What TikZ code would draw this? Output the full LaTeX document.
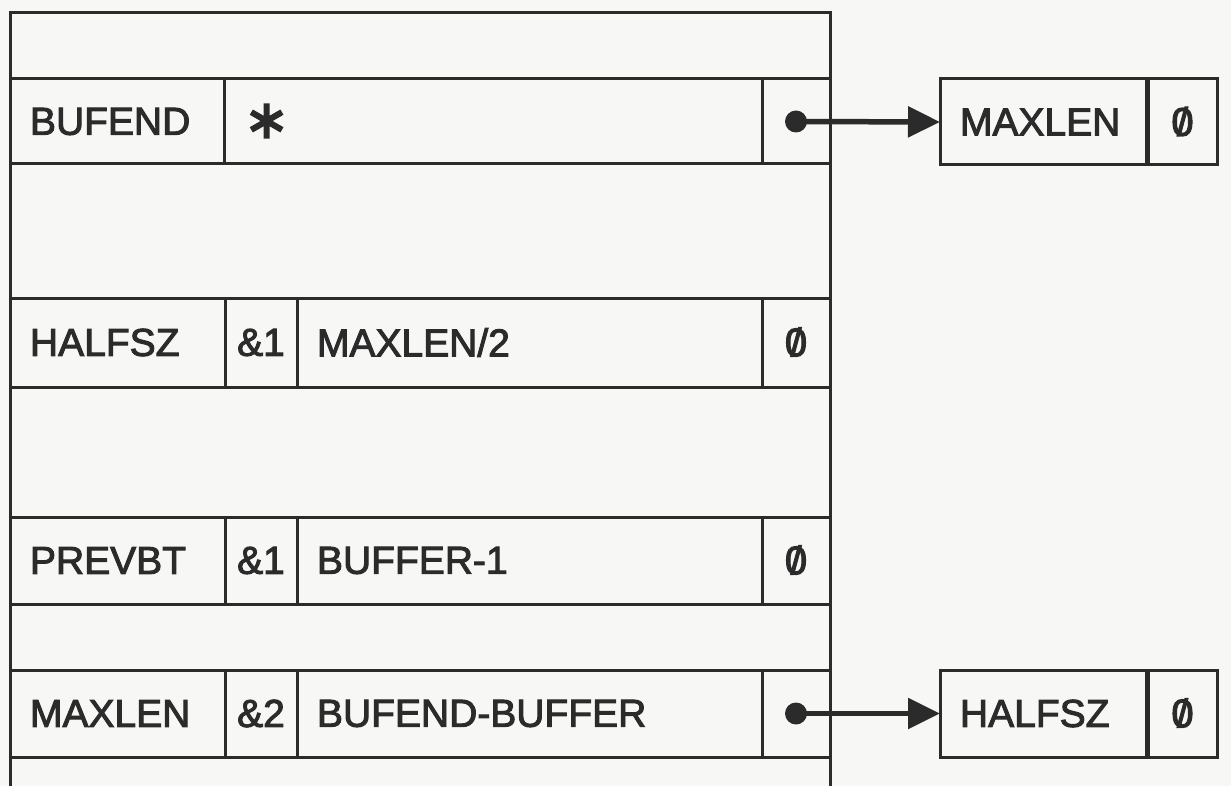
\documentclass[tikz,border=0pt]{standalone}
\usepackage{fontspec}
\setmainfont[FakeBold=2.5]{Liberation Sans}
\newfontfamily\zerofont[FakeBold=2.5]{Liberation Sans}
\newfontfamily\starfont[FakeBold=3]{DejaVu Sans}
\usetikzlibrary{arrows.meta}
\definecolor{ink}{HTML}{2B2B2B}
\definecolor{paper}{HTML}{F7F7F5}
\newcommand{\zr}{{\zerofont\fontsize{40}{42}\selectfont\ooalign{0\cr\hidewidth/\hidewidth\cr}}}
\newcommand{\astr}{{\starfont\fontsize{54}{46}\selectfont\raisebox{1pt}{∗}}}
\begin{document}
\begin{tikzpicture}[x=1pt,y=-1pt,
  base/.style={draw=ink, line width=3pt, outer sep=0pt, inner ysep=0pt,
    anchor=north west, text=ink, font=\fontsize{39}{42}\selectfont},
  lcell/.style 2 args={base, inner xsep=20pt, text width=#1pt, minimum height=#2pt, align=left},
  ccell/.style 2 args={base, inner xsep=0pt, text width=#1pt, minimum height=#2pt, align=center},
  frame/.style={draw=ink, line width=3pt, line join=miter},
  dot/.style={circle, fill=ink, inner sep=0pt, minimum size=22pt},
  ptr/.style={draw=ink, line width=5.5pt, -{Triangle[length=32pt,width=30pt]}}
]
\fill[paper] (0,0) rectangle (1231,786);
\useasboundingbox (0,0) rectangle (1231,786);

% outer frame of the memory block
\draw[frame] (10,786) -- (10,13) -- (830,13) -- (830,786);

% row 1
\node[lcell={174}{85}] (bufend) at (10,79) {BUFEND};
\node[lcell={498}{85}] (bufendv) at (224,79) {\astr};
\node[ccell={68}{85}] (bufendp) at (762,79) {};

% row 2
\node[lcell={175}{89}] (halfsz) at (10,298) {HALFSZ};
\node[ccell={72}{89}] (halfszr) at (225,298) {\&1};
\node[lcell={425}{89}] (halfszv) at (297,298) {MAXLEN/2};
\node[ccell={68}{89}] (halfszp) at (762,298) {\zr};

% row 3
\node[lcell={175}{87}] (prevbt) at (10,517) {PREVBT};
\node[ccell={72}{87}] (prevbtr) at (225,517) {\&1};
\node[lcell={425}{87}] (prevbtv) at (297,517) {BUFFER-1};
\node[ccell={68}{87}] (prevbtp) at (762,517) {\zr};

% row 4
\node[lcell={175}{87}] (maxlen) at (10,670) {MAXLEN};
\node[ccell={72}{87}] (maxlenr) at (225,670) {\&2};
\node[lcell={425}{87}] (maxlenv) at (297,670) {BUFEND-BUFFER};
\node[ccell={68}{87}] (maxlenp) at (762,670) {};

% target boxes
\node[lcell={166}{86}] (tmax) at (940,79) {MAXLEN};
\node[ccell={69}{86}] (tmaxz) at (1148,79) {\zr};
\node[lcell={166}{87}] (thalf) at (940,670) {HALFSZ};
\node[ccell={69}{87}] (thalfz) at (1148,670) {\zr};

% pointers
\node[dot] (d1) at (bufendp.center) {};
\node[dot] (d2) at (maxlenp.center) {};
\draw[ptr] (d1.center) -- (tmax.west);
\draw[ptr] (d2.center) -- (thalf.west);
\end{tikzpicture}
\end{document}
